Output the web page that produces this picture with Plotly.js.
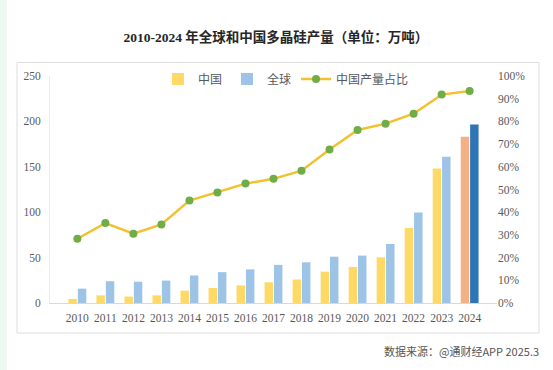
<!DOCTYPE html>
<html>
<head>
<meta charset="utf-8">
<script src="https://cdn.plot.ly/plotly-3.0.1.min.js"></script>
<style>html,body{margin:0;padding:0;background:#fff;}#chart{width:553px;height:370px;}</style>
</head>
<body>
<div id="chart"></div>
<script>
const years = ['2010','2011','2012','2013','2014','2015','2016','2017','2018','2019','2020','2021','2022','2023','2024'];
const chinaOutput = [4.5, 8.4, 7.1, 8.4, 13.6, 16.5, 19.4, 22.8, 25.9, 34.5, 39.7, 50.3, 82.7, 148, 183];
const globalOutput = [15.8, 24, 23.4, 24.7, 30.3, 34, 37, 42, 44.8, 51, 52.2, 65, 99.6, 161, 196.5];
const chinaShare = [0.283, 0.352, 0.305, 0.346, 0.451, 0.487, 0.526, 0.547, 0.583, 0.676, 0.762, 0.79, 0.834, 0.918, 0.934];
const leftTicks = [0, 50, 100, 150, 200, 250];
const rightTicks = [0, 0.1, 0.2, 0.3, 0.4, 0.5, 0.6, 0.7, 0.8, 0.9, 1.0];

const chinaColors = years.map((y, i) => i === years.length - 1 ? '#F4B183' : '#FFD966');
const globalColors = years.map((y, i) => i === years.length - 1 ? '#2E75B6' : '#9DC3E6');

const serif = '"Liberation Serif", "Noto Sans CJK SC", serif';
const sans = '"Noto Sans CJK SC", "Noto Sans", sans-serif';

const traces = [
  {type: 'bar', name: '中国', x: years, y: chinaOutput, marker: {color: chinaColors}, hoverinfo: 'skip'},
  {type: 'bar', name: '全球', x: years, y: globalOutput, marker: {color: globalColors}, hoverinfo: 'skip'},
  {type: 'scatter', mode: 'lines+markers', name: '中国产量占比', x: years, y: chinaShare, yaxis: 'y2',
   line: {color: '#F2C12E', width: 2.5}, marker: {color: '#70AD47', size: 8}, hoverinfo: 'skip'}
];

const W = 447, H = 227;
function px(x) { return (x - 50) / W; }
function py(y) { return (303 - y) / H; }

const layout = {
  width: 553, height: 370,
  margin: {l: 50, r: 56, t: 76, b: 67},
  paper_bgcolor: '#ffffff', plot_bgcolor: 'rgba(0,0,0,0)',
  title: {text: '<b>2010-2024 年全球和中国多晶硅产量（单位：万吨）</b>', x: 0.499, xanchor: 'center', y: 0.9, yanchor: 'middle', yref: 'container',
          font: {family: serif, size: 13.5, color: '#262626'}},
  barmode: 'group', bargap: 0.33, bargroupgap: 0.1,
  showlegend: true,
  legend: {orientation: 'h', x: px(158), y: py(79), xanchor: 'left', yanchor: 'middle', bgcolor: 'rgba(0,0,0,0)',
           font: {family: sans, size: 12, color: '#595959'}, traceorder: 'normal', itemwidth: 30},
  xaxis: {type: 'category', showgrid: false, showline: true, linecolor: '#D9D9D9', linewidth: 1, ticks: '',
          tickfont: {family: serif, size: 11.5, color: '#595959'}, fixedrange: true, zeroline: false, ticklabelstandoff: 4},
  yaxis: {range: [0, 250], tickvals: leftTicks, showgrid: false, showline: true, linecolor: '#EDEDED', ticks: '',
          tickfont: {family: serif, size: 11.5, color: '#595959'}, zeroline: false, ticklabelstandoff: 6},
  yaxis2: {range: [0, 1.0], tickvals: rightTicks, tickformat: '.0%', overlaying: 'y', side: 'right', showgrid: false,
           showline: false, ticks: '', tickfont: {family: serif, size: 11.5, color: '#595959'}, zeroline: false},
  shapes: [
    {type: 'rect', xref: 'paper', yref: 'paper', x0: px(17), x1: px(539), y0: py(333), y1: py(62.5),
     line: {color: '#DDDDDD', width: 1}, fillcolor: 'rgba(0,0,0,0)', layer: 'below'},
    {type: 'rect', xref: 'paper', yref: 'paper', x0: px(0), x1: px(7), y0: py(370), y1: py(0),
     line: {width: 0}, fillcolor: '#EEF8F2', layer: 'below'}
  ],
  annotations: [
    {text: '数据来源：@通财经APP 2025.3', xref: 'paper', yref: 'paper', x: px(541), y: py(351), xanchor: 'right', yanchor: 'middle',
     showarrow: false, font: {family: sans, size: 11, color: '#555'}}
  ]
};

Plotly.newPlot('chart', traces, layout, {displayModeBar: false, staticPlot: true});
</script>
</body>
</html>
